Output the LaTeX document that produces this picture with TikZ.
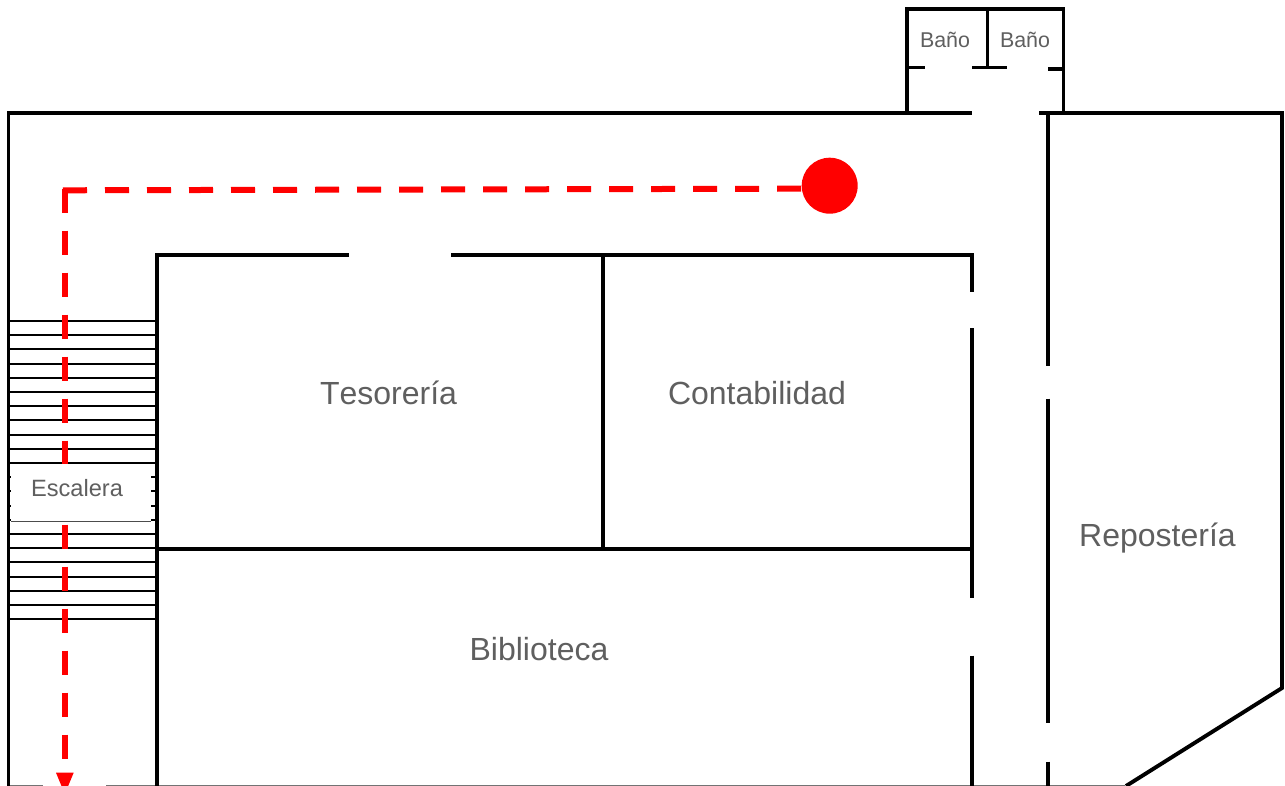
\documentclass[tikz,border=0pt]{standalone}
\usepackage{fontspec}
\setmainfont[Kerning=Off]{Liberation Sans}
\definecolor{lbl}{HTML}{5F5F5F}
\definecolor{escape}{HTML}{FF0000}
\tikzset{
  wall/.style={draw=black,line width=3.9pt,line cap=butt,line join=miter},
  stair/.style={draw=black,line width=2pt},
  edge/.style={draw=black!55,line width=1.2pt},
  route/.style={draw=escape,line width=6pt,dash pattern=on 24pt off 18pt},
  tip/.style={fill=escape,draw=none},
  lab/.style={text=lbl,inner sep=0pt,anchor=center},
}
\begin{document}
\begin{tikzpicture}[x=1pt,y=-1pt]
\useasboundingbox (0,0) rectangle (1285,786);
\fill[white] (0,0) rectangle (1285,786);
% stairs
\foreach \i in {0,...,21} \draw[stair] (8,{321+14.2*\i}) -- (156,{321+14.2*\i});
% bottom line
\draw[edge] (8,785.6) -- (43,785.6);
\draw[edge] (106,785.6) -- (1125,785.6);
% outer walls
\draw[wall] (8.5,786) -- (8.5,113) -- (972,113);
\draw[wall] (1039,113) -- (1282,113) -- (1282,688) -- (1126,786);
% baños
\draw[wall] (907,113) -- (907,9) -- (1063.5,9) -- (1063.5,113);
\draw[wall] (987.5,9) -- (987.5,67.5);
\draw[wall] (907,67.5) -- (924.5,67.5);
\draw[wall] (972,67.5) -- (1007,67.5);
\draw[wall] (1048,69) -- (1063.5,69);
% interior
\draw[wall] (157,786) -- (157,255) -- (349,255);
\draw[wall] (451,255) -- (972,255) -- (972,292.5);
\draw[wall] (972,328) -- (972,598);
\draw[wall] (972,655.5) -- (972,786);
\draw[wall] (603,255) -- (603,549);
\draw[wall] (157,549) -- (972,549);
\draw[wall] (1048,113) -- (1048,365.5);
\draw[wall] (1048,398.7) -- (1048,723);
\draw[wall] (1048,761.7) -- (1048,786);
% route
\coordinate (start) at (801,188.7);
\coordinate (cornerh) at (63,190.3);
\coordinate (cornerv) at (64.5,188.7);
\coordinate (end) at (64.5,773);
\draw[route] (start) -- (cornerh);
\draw[route] (cornerv) -- (end);
\fill[tip] (56,772.7) -- (73.7,772.7) -- (64.8,794) -- cycle;
\node[circle,fill=escape,minimum size=56pt,inner sep=0pt] (dot) at (829.7,185.7) {};
% escalera box
\fill[white] (11,464) rectangle (151,521);
\draw[draw=black!70,line width=1pt] (11,521) -- (151,521);
% labels
\node[lab,font=\fontsize{21.4}{24}\selectfont] (b1) at (945,40) {Baño};
\node[lab,font=\fontsize{21.4}{24}\selectfont] (b2) at (1025,40) {Baño};
\node[lab,font=\fontsize{23.6}{26}\selectfont] (esc) at (77,488) {Escalera};
\node[lab,font=\fontsize{32}{36}\selectfont] (t) at (388.5,393) {Tesorería};
\node[lab,font=\fontsize{32}{36}\selectfont] (c) at (757,393) {Contabilidad};
\node[lab,font=\fontsize{32}{36}\selectfont] (bib) at (539,649) {Biblioteca};
\node[lab,font=\fontsize{32}{36}\selectfont] (r) at (1157.5,538) {Repostería};
\end{tikzpicture}
\end{document}
